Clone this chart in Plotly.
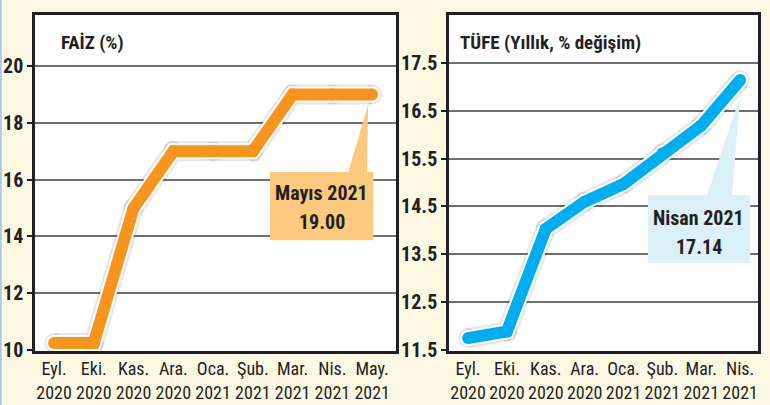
# Faiz ve TÜFE: iki panelli çizgi grafik
import plotly.graph_objects as go
from plotly.subplots import make_subplots

#%%
# Veri
faiz_aylar = ['Eyl.<br>2020', 'Eki.<br>2020', 'Kas.<br>2020', 'Ara.<br>2020', 'Oca.<br>2021',
              'Şub.<br>2021', 'Mar.<br>2021', 'Nis.<br>2021', 'May.<br>2021']
faiz = [10.25, 10.25, 15.00, 17.00, 17.00, 17.00, 19.00, 19.00, 19.00]

tufe_aylar = ['Eyl.<br>2020', 'Eki.<br>2020', 'Kas.<br>2020', 'Ara.<br>2020', 'Oca.<br>2021',
              'Şub.<br>2021', 'Mar.<br>2021', 'Nis.<br>2021']
tufe = [11.75, 11.89, 14.03, 14.60, 14.97, 15.61, 16.19, 17.14]

faiz_ticks = [10, 12, 14, 16, 18, 20]
tufe_ticks = [11.5, 12.5, 13.5, 14.5, 15.5, 16.5, 17.5]

#%%
FONT = 'Liberation Sans Narrow, Roboto Condensed, DejaVu Sans Condensed, Arial Narrow, sans-serif'
INK = '#231f20'
ORANGE = '#f7941d'
ORANGE_LIGHT = '#fcc97f'
BLUE = '#00aeef'
BLUE_LIGHT = '#dcf0fa'
CREAM = '#fdf8e4'

fig = make_subplots(rows=1, cols=2)


def add_thick_line(fig, x, y, color, col):
    # gölge, beyaz kenar, renkli çizgi
    for w, c in [(20, 'rgba(0,0,0,0.10)'), (16, 'white'), (12, color)]:
        fig.add_trace(go.Scatter(
            x=x, y=y, mode='lines+markers',
            line=dict(color=c, width=w),
            marker=dict(size=w, color=c, line=dict(width=0)),
            hoverinfo='skip', showlegend=False
        ), row=1, col=col)


faiz_x = list(range(len(faiz)))
tufe_x = list(range(len(tufe)))
add_thick_line(fig, faiz_x, faiz, ORANGE, 1)
add_thick_line(fig, tufe_x, tufe, BLUE, 2)

#%%
# Eksenler
axis_common = dict(showline=True, mirror=True, linecolor=INK, linewidth=2.5, zeroline=False)
fig.update_xaxes(
    **axis_common, showgrid=False, ticks='', tickmode='array', tickangle=0,
    tickfont=dict(family=FONT, size=18, color=INK)
)
fig.update_xaxes(domain=[35 / 770, 396 / 770], range=[-0.48, 8.6],
                 tickvals=faiz_x, ticktext=faiz_aylar, row=1, col=1)
fig.update_xaxes(domain=[449 / 770, 758 / 770], range=[-0.49, 7.46],
                 tickvals=tufe_x, ticktext=tufe_aylar, row=1, col=2)

fig.update_yaxes(
    **axis_common, showgrid=True, gridcolor='#6d6e71', gridwidth=1.5,
    ticks='outside', ticklen=5, tickwidth=1.5, tickcolor=INK,
    tickfont=dict(family=FONT, size=20, color=INK, weight='bold'),
    domain=[1 - 351 / 405, 1 - 15 / 405]
)
fig.update_yaxes(range=[9.965, 21.8], tickvals=faiz_ticks,
                 ticktext=[str(v) for v in faiz_ticks], row=1, col=1)
fig.update_yaxes(range=[11.48, 18.5], tickvals=tufe_ticks,
                 ticktext=[f'{v:.1f}' for v in tufe_ticks], row=1, col=2)

#%%
# Etiket kutuları
shapes = [
    dict(type='line', xref='paper', yref='paper', x0=0.001, x1=0.001, y0=0, y1=1,
         line=dict(color='#a8c8ec', width=2)),
    dict(type='rect', xref='x', yref='y', x0=5.43, x1=8.03, y0=13.87, y1=16.27,
         fillcolor=ORANGE_LIGHT, line=dict(width=0), layer='between'),
    dict(type='path', xref='x', yref='y', layer='between',
         path=f'M 7.40 16.27 L 7.87 16.27 L {faiz_x[-1] - 0.1} {faiz[-1] - 0.34} Z',
         fillcolor=ORANGE_LIGHT, line=dict(width=0)),
    dict(type='rect', xref='x2', yref='y2', x0=4.63, x1=7.26, y0=13.32, y1=14.74,
         fillcolor=BLUE_LIGHT, line=dict(width=0), layer='between'),
    dict(type='path', xref='x2', yref='y2', layer='between',
         path=f'M 6.15 14.74 L 6.79 14.74 L {tufe_x[-1]} {tufe[-1] - 0.35} Z',
         fillcolor=BLUE_LIGHT, line=dict(width=0)),
]

bold = dict(family=FONT, size=20, color=INK, weight='bold')
annotations = [
    dict(text='Mayıs 2021', x=6.73, y=15.53, xref='x', yref='y', showarrow=False, font=bold),
    dict(text=f'{faiz[-1]:.2f}', x=6.73, y=14.51, xref='x', yref='y', showarrow=False, font=bold),
    dict(text='Nisan 2021', x=5.94, y=14.26, xref='x2', yref='y2', showarrow=False, font=bold),
    dict(text=f'{tufe[-1]:.2f}', x=5.94, y=13.65, xref='x2', yref='y2', showarrow=False, font=bold),
    dict(text='<b>FAİZ (%)</b>', x=59 / 770, y=1 - 42 / 405, xref='paper', yref='paper',
         xanchor='left', yanchor='middle', showarrow=False,
         font=dict(family=FONT, size=19, color=INK)),
    dict(text='<b>TÜFE (Yıllık, % değişim)</b>', x=458 / 770, y=1 - 42 / 405,
         xref='paper', yref='paper', xanchor='left', yanchor='middle', showarrow=False,
         font=dict(family=FONT, size=19, color=INK)),
]

fig.update_layout(
    width=770, height=405,
    margin=dict(l=0, r=0, t=0, b=0, autoexpand=False),
    paper_bgcolor=CREAM,
    plot_bgcolor='white',
    showlegend=False,
    shapes=shapes,
    annotations=annotations,
    font=dict(family=FONT, color=INK)
)

# sayfanın varsayılan 8px kenar boşluğunu kaldır, araç çubuğunu gizle
fig.write_html('out.html', config={'displayModeBar': False},
               post_script="document.body.style.margin='0';")
